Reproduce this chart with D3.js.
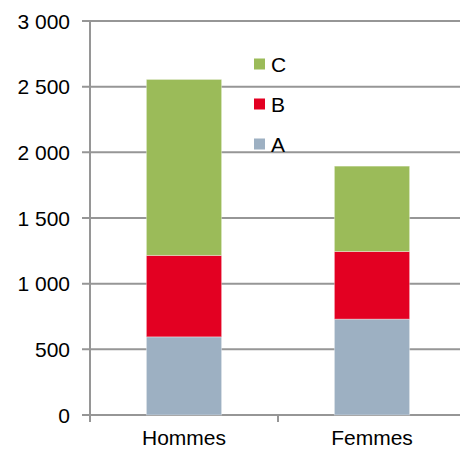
<!DOCTYPE html>
<html>
<head>
<meta charset="utf-8">
<script src="https://d3js.org/d3.v7.min.js"></script>
<style>
  body { margin: 0; background: #fff; }
  svg { font-family: "Liberation Sans", Arial, Helvetica, sans-serif; }
</style>
</head>
<body>
<svg id="chart" width="460" height="450"></svg>
<script>
  // data
  var categories = ["Hommes", "Femmes"];
  var seriesNames = ["A", "B", "C"];
  var valuesA = [595, 730];
  var valuesB = [620, 515];
  var valuesC = [1340, 650];
  var yTicks = [0, 500, 1000, 1500, 2000, 2500, 3000];
  var colors = ["#9db0c2", "#e30022", "#9bbb59"];

  var rows = categories.map(function(c, i) {
    return { cat: c, A: valuesA[i], B: valuesB[i], C: valuesC[i] };
  });

  var svg = d3.select("#chart");

  var y = d3.scaleLinear().domain([0, 3000]).range([415, 21]);
  var x = d3.scaleBand().domain(categories).range([90, 466]);

  // gridlines
  svg.append("g")
    .selectAll("line").data(yTicks).enter()
    .append("line")
      .attr("x1", 82).attr("x2", 460)
      .attr("y1", function(d) { return y(d); })
      .attr("y2", function(d) { return y(d); })
      .attr("stroke", "#969696")
      .attr("stroke-width", 2);

  // tick labels
  var fmt = function(d) { return d3.format(",")(d).replace(/,/g, " "); };
  svg.append("g")
    .selectAll("text").data(yTicks).enter()
    .append("text")
      .attr("x", 70)
      .attr("y", function(d) { return y(d); })
      .attr("dy", "0.36em")
      .attr("text-anchor", "end")
      .style("font-size", "21px")
      .attr("fill", "#000")
      .text(fmt);

  // stacked bars
  var stack = d3.stack().keys(seriesNames)(rows);
  var barW = x.step() * 0.4;
  svg.append("g")
    .selectAll("g").data(stack).enter()
    .append("g")
      .attr("fill", function(d, i) { return colors[i]; })
    .selectAll("rect").data(function(d) { return d; }).enter()
    .append("rect")
      .attr("x", function(d) { return x(d.data.cat) + x.bandwidth() / 2 - barW / 2; })
      .attr("width", barW)
      .attr("y", function(d) { return y(d[1]); })
      .attr("height", function(d) { return y(d[0]) - y(d[1]); })
      .attr("stroke", "rgba(255,255,255,0.35)")
      .attr("stroke-width", 1);

  // y axis line and x axis ticks
  svg.append("line")
    .attr("x1", 90).attr("x2", 90).attr("y1", 21).attr("y2", 422)
    .attr("stroke", "#969696").attr("stroke-width", 2);
  svg.append("line")
    .attr("x1", x("Femmes")).attr("x2", x("Femmes")).attr("y1", 415).attr("y2", 422)
    .attr("stroke", "#969696").attr("stroke-width", 2);

  // category labels
  svg.append("g")
    .selectAll("text").data(categories).enter()
    .append("text")
      .attr("x", function(d) { return x(d) + x.bandwidth() / 2; })
      .attr("y", 445)
      .attr("text-anchor", "middle")
      .style("font-size", "21px")
      .attr("fill", "#000")
      .text(function(d) { return d; });

  // legend (C on top)
  var legendY = d3.scalePoint().domain(["C", "B", "A"]).range([64, 144]);
  var legend = svg.append("g")
    .selectAll("g").data(seriesNames).enter()
    .append("g")
      .attr("transform", function(d) { return "translate(254," + legendY(d) + ")"; });
  legend.append("rect")
    .attr("x", 0).attr("y", -5.5).attr("width", 11).attr("height", 11)
    .attr("fill", function(d, i) { return colors[i]; });
  legend.append("text")
    .attr("x", 17).attr("dy", "0.36em")
    .style("font-size", "21px")
    .attr("fill", "#000")
    .text(function(d) { return d; });
</script>
</body>
</html>
